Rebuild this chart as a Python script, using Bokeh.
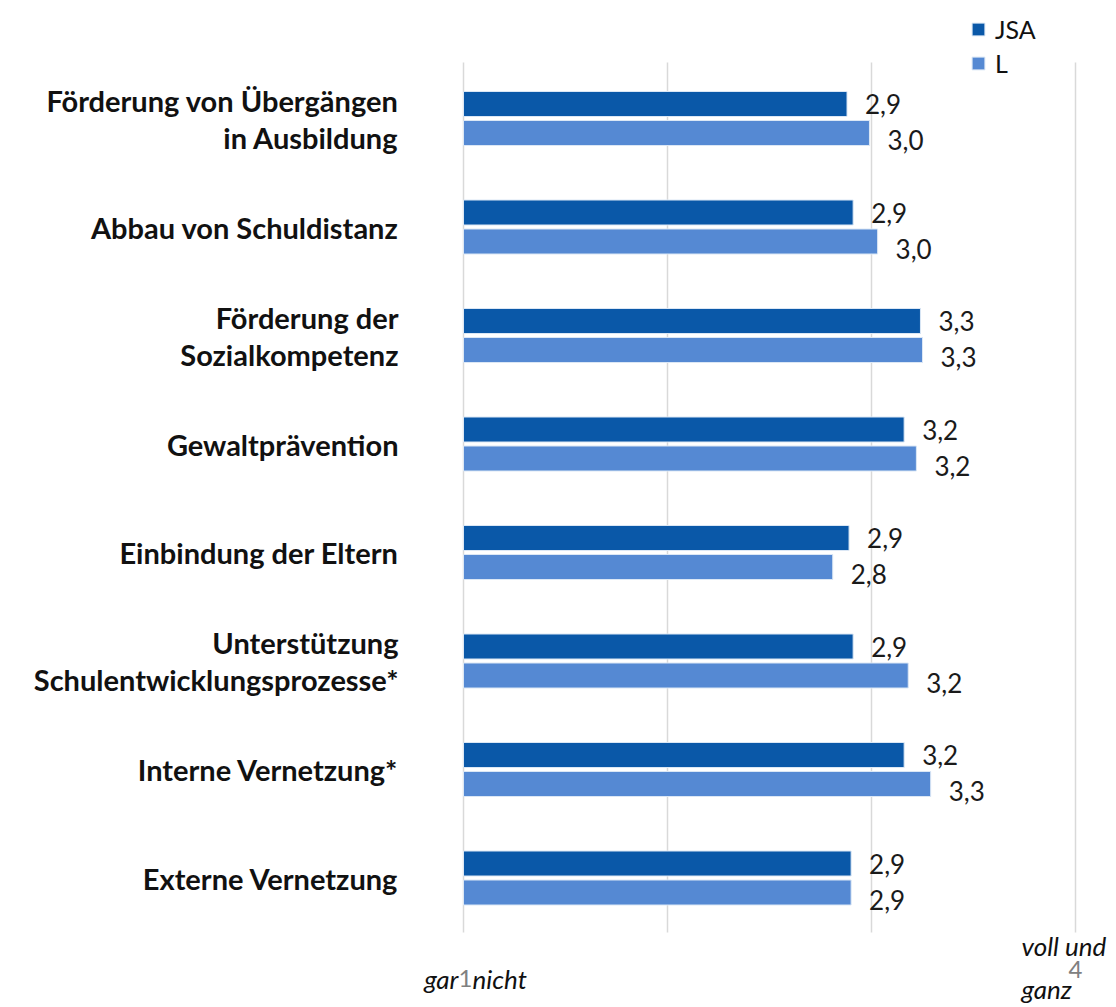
from bokeh.plotting import figure
from bokeh.models import ColumnDataSource, Range1d, Legend, LegendItem
from bokeh.core.properties import value
from bokeh.embed import file_html
from bokeh.resources import INLINE

# ---------------- data ----------------
categories = [
    "Förderung von Übergängen\nin Ausbildung",
    "Abbau von Schuldistanz",
    "Förderung der\nSozialkompetenz",
    "Gewaltprävention",
    "Einbindung der Eltern",
    "Unterstützung\nSchulentwicklungsprozesse*",
    "Interne Vernetzung*",
    "Externe Vernetzung",
]
jsa_values = [2.88, 2.91, 3.24, 3.16, 2.89, 2.91, 3.16, 2.90]
l_values = [2.99, 3.03, 3.25, 3.22, 2.81, 3.18, 3.29, 2.90]
jsa_labels = ["2,9", "2,9", "3,3", "3,2", "2,9", "2,9", "3,2", "2,9"]
l_labels = ["3,0", "3,0", "3,3", "3,2", "2,8", "3,2", "3,3", "2,9"]
series_names = ["JSA", "L"]
grid_ticks = [1, 2, 3, 4]
axis_min_label = ["gar", "1", "nicht"]
axis_max_label = ["voll und", "4", "ganz"]

# ---------------- layout constants ----------------
W, H = 1116, 1007
X1_PX = 463.0          # canvas px of x = 1
PX_X = 204.0           # px per x unit
Y0_PX = 877.5          # canvas px of y = 0 (last category centre)
PX_Y = 108.5           # px per y unit

def ypx(px):
    return (Y0_PX - px) / PX_Y

FONT = value("Lato")
JSA_COLOR = "#0A58A8"
L_COLOR = "#5589D3"

n = len(categories)
ys = [n - 1 - i for i in range(n)]
bar_h = 25.0 / PX_Y
off = 14.5 / PX_Y

p = figure(
    width=W, height=H, output_backend="svg", toolbar_location=None,
    x_axis_location=None, y_axis_location=None,
    x_range=Range1d(1 - X1_PX / PX_X, 1 + (W - X1_PX) / PX_X),
    y_range=Range1d(ypx(H), ypx(0)),
    min_border=0,
)
p.outline_line_color = None
p.grid.visible = False
p.background_fill_color = "white"

# gridlines
p.segment(x0=grid_ticks, x1=grid_ticks,
          y0=[ypx(932)] * len(grid_ticks), y1=[ypx(62)] * len(grid_ticks),
          line_color="#d9d9d9", line_width=1.5)

src = ColumnDataSource(dict(
    y_jsa=[y + off for y in ys], y_l=[y - off for y in ys],
    jsa=jsa_values, l=l_values,
    jsa_lab=jsa_labels, l_lab=l_labels,
    y_jsa_lab=[y + off for y in ys], y_l_lab=[y - off - 7 / PX_Y for y in ys],
))

r_jsa = p.hbar(y="y_jsa", left=1, right="jsa", height=bar_h, source=src,
               fill_color=JSA_COLOR, line_color="#dbe7f5", line_width=1)
r_l = p.hbar(y="y_l", left=1, right="l", height=bar_h, source=src,
             fill_color=L_COLOR, line_color="#dbe7f5", line_width=1)

# value labels
p.text(x="jsa", y="y_jsa_lab", text="jsa_lab", source=src, x_offset=18,
       text_font=FONT, text_font_size="26px", text_color="#1a1a1a",
       text_align="left", text_baseline="middle")
p.text(x="l", y="y_l_lab", text="l_lab", source=src, x_offset=18,
       text_font=FONT, text_font_size="26px", text_color="#1a1a1a",
       text_align="left", text_baseline="middle")

# category labels
cx, cy, ct = [], [], []
for y, cat in zip(ys, categories):
    lines = cat.split("\n")
    k = len(lines)
    for j, line in enumerate(lines):
        dy = (j - (k - 1) / 2) * 37
        cx.append(1)
        cy.append(y - dy / PX_Y)
        ct.append(line)
p.text(x=cx, y=cy, text=ct, x_offset=-65, text_font=FONT,
       text_font_size="29px", text_font_style="bold", text_color="#111111",
       text_align="right", text_baseline="middle")

# x-axis end labels
p.text(x=[1], y=[ypx(978)], text=[axis_min_label[0]], x_offset=-5,
       text_font=FONT, text_font_size="26px", text_font_style="italic",
       text_color="#111111", text_align="right", text_baseline="middle")
p.text(x=[1], y=[ypx(978)], text=[axis_min_label[1]], x_offset=2,
       text_font=FONT, text_font_size="24px", text_color="#808080",
       text_align="center", text_baseline="middle")
p.text(x=[1], y=[ypx(978)], text=[axis_min_label[2]], x_offset=9,
       text_font=FONT, text_font_size="26px", text_font_style="italic",
       text_color="#111111", text_align="left", text_baseline="middle")
p.text(x=[4], y=[ypx(945)], text=[axis_max_label[0]], x_offset=-54,
       text_font=FONT, text_font_size="26px", text_font_style="italic",
       text_color="#111111", text_align="left", text_baseline="middle")
p.text(x=[4], y=[ypx(969)], text=[axis_max_label[1]],
       text_font=FONT, text_font_size="24px", text_color="#808080",
       text_align="center", text_baseline="middle")
p.text(x=[4], y=[ypx(988)], text=[axis_max_label[2]], x_offset=-54,
       text_font=FONT, text_font_size="26px", text_font_style="italic",
       text_color="#111111", text_align="left", text_baseline="middle")

legend = Legend(
    items=[LegendItem(label=series_names[0], renderers=[r_jsa]),
           LegendItem(label=series_names[1], renderers=[r_l])],
    location=(970, 929),
    border_line_color=None, background_fill_alpha=0,
    padding=0, margin=0, spacing=4,
    glyph_width=16, glyph_height=16, label_height=26, label_standoff=9,
    label_text_font="Lato", label_text_font_size="25px",
    label_text_color="#111111",
)
p.add_layout(legend)

open("out.html", "w").write(file_html(p, INLINE))
